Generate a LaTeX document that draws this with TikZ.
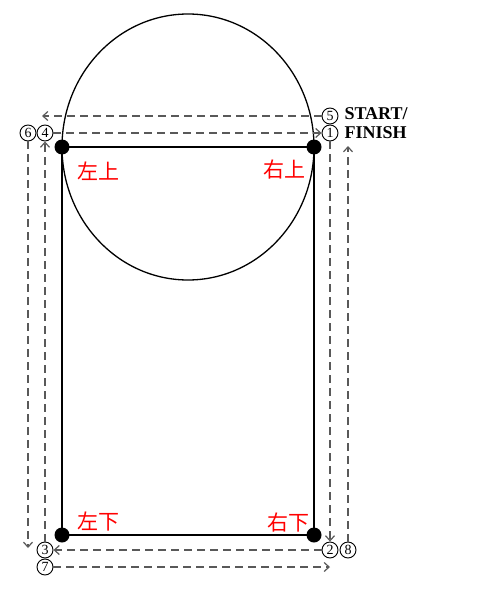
\documentclass[tikz,border=0pt]{standalone}
\usepackage{fontspec}
\setmainfont{Liberation Serif}
\newfontfamily\cjk{Noto Sans CJK SC}
\usetikzlibrary{arrows.meta}
\tikzset{
        dot/.style={circle, fill=black, inner sep=0pt, minimum size=15pt},
        num/.style={circle, draw, line width=0.9pt, inner sep=0pt,
                    minimum size=16pt, font=\fontsize{14}{14}\selectfont},
        corner/.style={text=red, font=\cjk\fontsize{21}{21}\selectfont},
        side/.style={line width=1.8pt},
        myarrow/.style={-{Straight Barb[length=5pt, width=9pt]}, dash pattern=on 8pt off 5pt,
                        line width=1.2pt, draw=black!65},
 }
\begin{document}
\begin{tikzpicture}[x=1pt, y=-1pt]
    \useasboundingbox (0,0) rectangle (500,599);

    \draw[line width=1.3pt] (188,147) ellipse [x radius=126pt, y radius=133pt];

    \coordinate (tlc) at (62,147);
    \coordinate (trc) at (314,147);
    \coordinate (brc) at (314,535);
    \coordinate (blc) at (62,535);
    \draw[side] (tlc) -- (trc) -- (brc) -- (blc) -- cycle;

    \node[dot] (tl) at (tlc) {};
    \node[dot] (tr) at (trc) {};
    \node[dot] (br) at (brc) {};
    \node[dot] (bl) at (blc) {};

    \node[corner] (lu) at (98,171) {左上};
    \node[corner] (ru) at (284,170) {右上};
    \node[corner] (ld) at (98,522) {左下};
    \node[corner] (rd) at (288,523) {右下};

    \node[num] (n5) at (330,116) {5};
    \node[num] (n1) at (330,133) {1};
    \node[num] (n6) at (28,133) {6};
    \node[num] (n4) at (45,133) {4};
    \node[num] (n3) at (45,550) {3};
    \node[num] (n7) at (45,567) {7};
    \node[num] (n2) at (330,550) {2};
    \node[num] (n8) at (348,550) {8};

    \node[anchor=west, align=left, font=\bfseries\fontsize{18}{19}\selectfont]
        (start) at (341,123) {START/\\FINISH};

    \coordinate (e5) at (42,116);
    \coordinate (e6) at (28,548);
    \coordinate (e7) at (330,567);
    \coordinate (e8) at (348,146);

    \draw[myarrow] (n1) -- (n2);
    \draw[myarrow] (n2) -- (n3);
    \draw[myarrow] (n3) -- (n4);
    \draw[myarrow] (n4) -- (n1);
    \draw[myarrow] (n5) -- (e5);
    \draw[myarrow] (n6) -- (e6);
    \draw[myarrow] (n7) -- (e7);
    \draw[myarrow] (n8) -- (e8);
\end{tikzpicture}
\end{document}
